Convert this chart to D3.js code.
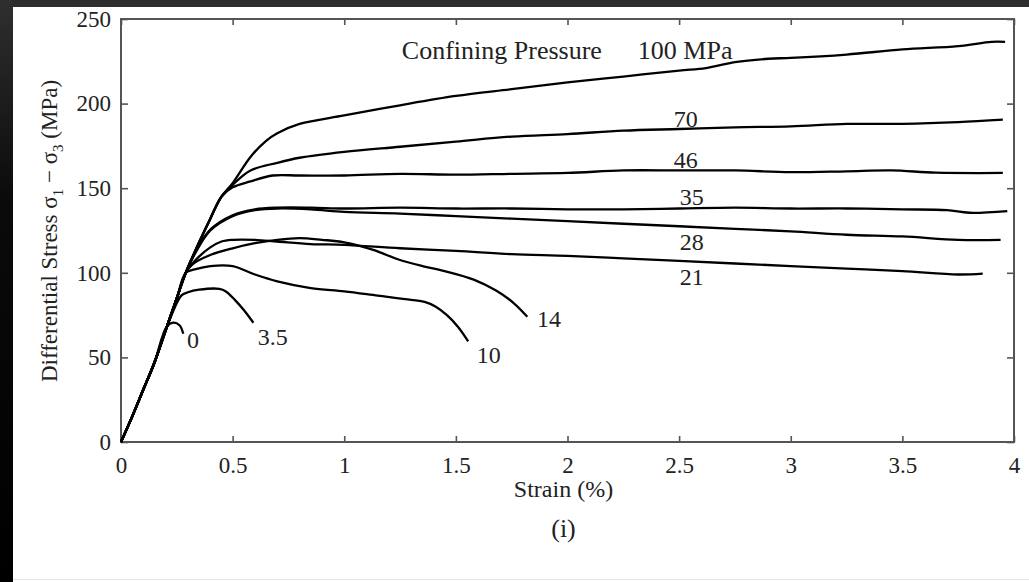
<!DOCTYPE html>
<html>
<head>
<meta charset="utf-8">
<script src="https://cdn.jsdelivr.net/npm/d3@7"></script>
<style>
  body { margin: 0; background: #fff; }
  svg text { font-family: "Liberation Serif", "Times New Roman", serif; fill: #222; }
</style>
</head>
<body>
<div id="chart"></div>
<script>
// shared elastic stem (strain %, stress MPa)
const stem = [[0, 0], [0.05, 15], [0.1, 31], [0.15, 47], [0.2, 66], [0.25, 85], [0.29, 100], [0.35, 118], [0.4, 132], [0.45, 145]];

// branch of each curve after it leaves the stem
const c0 = [[0.204, 68], [0.234, 70.5], [0.262, 69], [0.279, 64]];
const c3_5 = [[0.27, 86.5], [0.3, 88.5], [0.35, 90], [0.44, 90.5], [0.47, 89], [0.51, 84], [0.55, 78], [0.593, 70.5]];
const c10 = [[0.33, 102], [0.4, 104], [0.5, 104], [0.6, 99], [0.7, 95], [0.85, 91], [1.0, 89], [1.15, 86.5], [1.3, 84], [1.36, 82.8], [1.41, 80], [1.46, 75], [1.51, 68], [1.555, 59.5]];
const c14 = [[0.32, 105], [0.4, 110.5], [0.5, 114.5], [0.6, 117.5], [0.7, 119.5], [0.8, 120.5], [0.9, 119.5], [1.0, 118], [1.13, 113.5], [1.24, 108], [1.35, 104], [1.45, 101], [1.58, 96], [1.68, 89.5], [1.76, 82], [1.82, 74]];
const c21 = [[0.33, 107], [0.4, 115], [0.45, 118.5], [0.5, 119.5], [0.6, 119.5], [0.7, 118.5], [0.85, 117], [1.0, 116.5], [1.25, 114.5], [1.5, 113], [1.75, 111], [2.0, 110], [2.25, 108.5], [2.5, 107], [2.75, 105.5], [3.0, 104], [3.25, 102.5], [3.5, 101], [3.75, 99], [3.86, 99.5]];
const c28 = [[0.33, 111], [0.4, 125], [0.5, 133.5], [0.6, 137], [0.7, 138], [0.85, 137.5], [1.0, 136], [1.25, 135], [1.5, 133.5], [1.75, 132], [2.0, 130.5], [2.25, 129], [2.5, 127.5], [2.75, 126], [3.0, 124.5], [3.25, 122.5], [3.5, 121.5], [3.75, 119.5], [3.94, 119.5]];
const c35 = [[0.33, 111.5], [0.4, 125.5], [0.5, 134], [0.6, 137.5], [0.7, 138.5], [0.85, 138.5], [1.0, 138], [1.25, 138.5], [1.5, 138], [1.75, 138], [2.0, 137.5], [2.25, 137.5], [2.5, 138], [2.75, 138.5], [3.0, 138], [3.25, 138], [3.5, 137.5], [3.7, 137], [3.8, 135.5], [3.97, 136.5]];
const c46 = [[0.5, 150.5], [0.58, 154], [0.68, 157.5], [0.8, 157.5], [1.0, 157.5], [1.25, 158.5], [1.5, 158], [1.75, 158.5], [2.0, 159], [2.25, 160.5], [2.5, 160.5], [2.75, 160.5], [3.0, 159.5], [3.25, 160], [3.45, 160.5], [3.65, 159.2], [3.95, 159]];
const c70 = [[0.5, 152], [0.58, 160.5], [0.7, 165], [0.8, 168], [1.0, 171.5], [1.25, 174.5], [1.5, 177.5], [1.75, 180.5], [2.0, 182], [2.25, 184], [2.5, 185], [2.75, 186], [3.0, 186.5], [3.25, 188], [3.5, 188], [3.75, 189], [3.95, 190.5]];
const c100 = [[0.5, 153], [0.58, 168.5], [0.65, 178], [0.7, 182.5], [0.8, 188], [1.0, 193], [1.25, 199], [1.5, 204.5], [1.75, 208.5], [2.0, 212.5], [2.25, 216], [2.5, 219.5], [2.62, 221], [2.75, 224.5], [2.9, 226.5], [3.0, 227], [3.25, 229], [3.5, 232], [3.75, 234], [3.9, 236.5], [3.96, 236.5]];

const pressures = ["0", "3.5", "10", "14", "21", "28", "35", "46", "70", "100 MPa"];
const branches = [c0, c3_5, c10, c14, c21, c28, c35, c46, c70, c100];
// where each label sits, in strain / stress units
const labelAt = [[0.296, 55.6], [0.613, 57.3], [1.594, 46.7], [1.863, 68], [2.503, 92.8], [2.503, 113.5], [2.503, 140], [2.476, 162], [2.476, 186], [2.315, 226.5]];

const xTicks = [0, 0.5, 1, 1.5, 2, 2.5, 3, 3.5, 4];
const yTicks = [0, 50, 100, 150, 200, 250];

const W = 1029, H = 582;
const svg = d3.select("#chart").append("svg").attr("width", W).attr("height", H);

// dark frame from the photo
const grad = svg.append("defs").append("linearGradient").attr("id", "edge").attr("x1", 0).attr("y1", 0).attr("x2", 0).attr("y2", 1);
grad.append("stop").attr("offset", "0%").attr("stop-color", "#2f2f2f");
grad.append("stop").attr("offset", "35%").attr("stop-color", "#0a0a0a");
grad.append("stop").attr("offset", "100%").attr("stop-color", "#000");
svg.append("rect").attr("width", W).attr("height", H).attr("fill", "#fff");
svg.append("rect").attr("width", W).attr("height", 7).attr("fill", "#2d2d2d");
svg.append("rect").attr("width", 13).attr("height", H).attr("fill", "url(#edge)");
svg.append("line").attr("x1", 13).attr("x2", W).attr("y1", 579.5).attr("y2", 579.5).attr("stroke", "#e4e4e4");

const x = d3.scaleLinear().domain([0, 4]).range([121, 1014]);
const y = d3.scaleLinear().domain([0, 250]).range([442, 19]);

const axisColor = "#555";
function styleAxis(g) {
  g.select(".domain").remove();
  g.selectAll(".tick line").attr("stroke", axisColor).attr("stroke-width", 1.6);
  g.selectAll(".tick text").attr("font-size", 23).attr("fill", "#222");
}

svg.append("g").attr("transform", `translate(0,${y(0)})`)
  .call(d3.axisBottom(x).tickValues(xTicks).tickSizeInner(-6).tickSizeOuter(0).tickPadding(15).tickFormat(d3.format("")))
  .call(styleAxis)
  .call(g => g.selectAll(".tick text").attr("dy", "0.71em"));
svg.append("g").attr("transform", `translate(0,${y(250)})`)
  .call(d3.axisTop(x).tickValues(xTicks).tickSizeInner(-6).tickSizeOuter(0).tickFormat(""))
  .call(styleAxis);
svg.append("g").attr("transform", `translate(${x(0)},0)`)
  .call(d3.axisLeft(y).tickValues(yTicks).tickSizeInner(-7).tickSizeOuter(0).tickPadding(10))
  .call(styleAxis);
svg.append("g").attr("transform", `translate(${x(4)},0)`)
  .call(d3.axisRight(y).tickValues(yTicks).tickSizeInner(-7).tickSizeOuter(0).tickFormat(""))
  .call(styleAxis);

svg.append("rect")
  .attr("x", x(0)).attr("y", y(250))
  .attr("width", x(4) - x(0)).attr("height", y(0) - y(250))
  .attr("fill", "none").attr("stroke", axisColor).attr("stroke-width", 2);

const line = d3.line().x(d => x(d[0])).y(d => y(d[1])).curve(d3.curveCatmullRom.alpha(0.5));

svg.append("g").selectAll("path")
  .data(branches)
  .join("path")
  .attr("d", b => line(stem.filter(p => p[0] < b[0][0] - 0.02).concat(b)))
  .attr("fill", "none")
  .attr("stroke", "#000")
  .attr("stroke-width", 2.3)
  .attr("stroke-linejoin", "round");

svg.append("g").selectAll("text")
  .data(pressures)
  .join("text")
  .attr("x", (d, i) => x(labelAt[i][0]))
  .attr("y", (d, i) => y(labelAt[i][1]))
  .attr("font-size", (d, i) => i == pressures.length - 1 ? 26 : 24)
  .text(d => d);

svg.append("text")
  .attr("x", x(1.258)).attr("y", y(226.5))
  .attr("font-size", 26)
  .text("Confining Pressure");

svg.append("text")
  .attr("x", (x(0) + x(4)) / 2 - 4).attr("y", 497)
  .attr("text-anchor", "middle").attr("font-size", 24)
  .text("Strain (%)");

svg.append("text")
  .attr("x", (x(0) + x(4)) / 2 - 4).attr("y", 537)
  .attr("text-anchor", "middle").attr("font-size", 26)
  .text("(i)");

const yt = svg.append("text")
  .attr("transform", "translate(57,231) rotate(-90)")
  .attr("text-anchor", "middle").attr("font-size", 23);
yt.append("tspan").text("Differential Stress σ");
yt.append("tspan").attr("font-size", 15).attr("dy", 6).text("1");
yt.append("tspan").attr("dy", -6).text(" − σ");
yt.append("tspan").attr("font-size", 15).attr("dy", 6).text("3");
yt.append("tspan").attr("dy", -6).text(" (MPa)");
</script>
</body>
</html>
